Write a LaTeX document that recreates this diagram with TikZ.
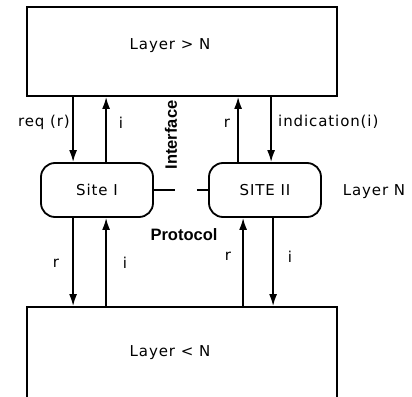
\documentclass[tikz,border=0pt]{standalone}
\usepackage{fontspec}
\setmainfont{DejaVu Sans}[LetterSpace=6]
\newfontfamily\boldlbl{Liberation Sans}
\usetikzlibrary{arrows.meta, positioning, calc}

\begin{document}
\begin{tikzpicture}[x=1pt, y=-1pt, font=\fontsize{15}{17}\selectfont,
        layer/.style={rectangle, draw, line width=1.8pt, minimum width=310pt, inner sep=0pt},
        site/.style={rectangle, rounded corners=14pt, draw, line width=1.8pt,
                     minimum width=112pt, minimum height=54pt},
        sig/.style={line width=1.7pt, -{Latex[length=12pt, width=8pt]}},
        note/.style={inner sep=0pt},
        heavy/.style={inner sep=0pt, font=\boldlbl\bfseries\fontsize{16.5}{18}\selectfont}
    ]
        \useasboundingbox (0,0) rectangle (412,396);

        \node[layer, minimum height=89pt,
              label={[xshift=-12pt, yshift=5.5pt]center:Layer > N}] (upper) at (182,51.5) {};
        \node[layer, minimum height=92pt,
              label={[xshift=-12pt, yshift=0pt]center:Layer < N}] (lower) at (182,353) {};

        \node[site] (siteA) at (97,190)  {Site I};
        \node[site] (siteB) at (265,190) {SITE II};

        \draw[line width=1.6pt, dash pattern=on 21pt off 22pt] (siteA.east) -- (siteB.west);

        % upper interface
        \draw[sig] ([xshift=33pt]siteA.north west |- upper.south) -- ([xshift=33pt]siteA.north west);
        \draw[sig] ([xshift=66pt]siteA.north west) -- ([xshift=66pt]siteA.north west |- upper.south);
        \draw[sig] ([xshift=30pt]siteB.north west) -- ([xshift=30pt]siteB.north west |- upper.south);
        \draw[sig] ([xshift=63pt]siteB.north west |- upper.south) -- ([xshift=63pt]siteB.north west);

        % lower interface
        \draw[sig] ([xshift=33pt]siteA.south west) -- ([xshift=33pt]siteA.south west |- lower.north);
        \draw[sig] ([xshift=66pt]siteA.south west |- lower.north) -- ([xshift=66pt]siteA.south west);
        \draw[sig] ([xshift=35pt]siteB.south west |- lower.north) -- ([xshift=35pt]siteB.south west);
        \draw[sig] ([xshift=65pt]siteB.south west) -- ([xshift=65pt]siteB.south west |- lower.north);

        \node[note, anchor=east] (req) at (70,122) {req (r)};
        \node[note] (iA) at (121,123) {i};
        \node[note] (rB) at (227,123) {r};
        \node[note, anchor=west] (ind) at (278,122) {indication(i)};

        \node[note] (rC) at (56,263) {r};
        \node[note] (iC) at (125,263) {i};
        \node[note] (rD) at (228,256) {r};
        \node[note] (iD) at (290,257) {i};

        \node[note] (levelN) at (374,192) {Layer N};
        \node[heavy, rotate=90] (iface) at (171,135) {Interface};
        \node[heavy] (proto) at (184,235) {Protocol};
    \end{tikzpicture}
\end{document}
